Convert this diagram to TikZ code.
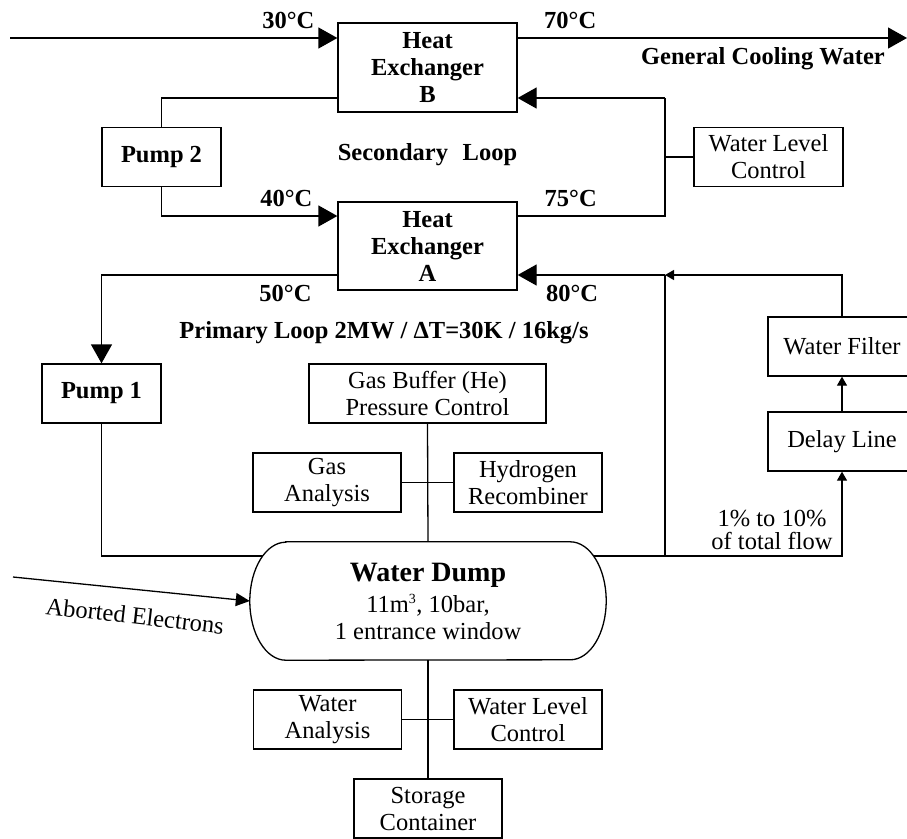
\documentclass[tikz,border=0pt]{standalone}
\usepackage{fontspec}
\setmainfont{Liberation Serif}
\usetikzlibrary{arrows.meta}

\newcommand{\boxfont}{\fontsize{24.5}{27}\selectfont}
\newcommand{\dumpfont}{\fontsize{28}{31}\selectfont}

\tikzset{
  unitbox/.style={draw, line width=1.3pt, minimum width=148pt, minimum height=59pt, inner sep=0pt, align=center},
  pumpbox/.style={unitbox, minimum width=119pt, font=\boxfont\bfseries},
  exchanger/.style={unitbox, minimum width=179pt, minimum height=89pt, font=\boxfont\bfseries},
  templabel/.style={inner sep=0pt, font=\boxfont\bfseries},
  pipe/.style={line width=1.3pt},
  bigtip/.style={-{Triangle[length=19pt, width=21pt]}},
  midtip/.style={-{Triangle[length=14pt, width=13pt]}},
  smalltip/.style={-{Triangle[length=9pt, width=10pt]}}
}

\begin{document}
\begin{tikzpicture}[x=1pt, y=-1pt, every node/.style={font=\boxfont}]%[remember picture, overlay]

\def\endrx{36}
\def\endry{59}

\useasboundingbox (0,0) rectangle (907,838);

\node[exchanger] (hxB) at (427.5,67.5) {Heat\\Exchanger\\B};

\node[exchanger, minimum height=88pt] (hxA) at (427.5,246) {Heat\\Exchanger\\A};

\node[pumpbox] (pump2) at (161.5,157) {Pump 2};

\node[pumpbox] (pump1) at (101.5,393.5) {Pump 1};

\node[unitbox, minimum width=149pt] (levelB) at (768.5,157) {Water Level\\Control};

\node[unitbox, minimum width=237pt] (gasbuf) at (427.5,393.5) {Gas Buffer (He)\\Pressure Control};

\node[unitbox] (gasana) at (327,482.5) {Gas\\Analysis};

\node[unitbox] (recomb) at (528,482.5) {Hydrogen\\Recombiner};

\node[unitbox] (filter) at (842,346.5) {Water Filter};

\node[unitbox] (delay) at (842,441.5) {Delay Line};

\node[unitbox] (watana) at (327.5,719.5) {Water\\Analysis};

\node[unitbox] (levelA) at (528,719.5) {Water Level\\Control};

\node[unitbox] (store) at (428,808.5) {Storage\\Container};

% the dump vessel: straight top and bottom, half-ellipse ends
\node[minimum width=356pt, minimum height=118pt, inner sep=0pt, align=center] (dump) at (428,601) {{\dumpfont\bfseries Water Dump}\\[4pt]11m\textsuperscript{\fontsize{14}{14}\selectfont 3}, 10bar,\\1 entrance window};

\draw[pipe] ([xshift=\endrx pt]dump.north west) -- ([xshift=-\endrx pt]dump.north east) arc[start angle=-90, end angle=90, x radius=\endrx, y radius=\endry] -- ([xshift=\endrx pt]dump.south west) arc[start angle=90, end angle=270, x radius=\endrx, y radius=\endry] -- cycle;

% cooling water through B
\coordinate (cwin) at (10,38);
\coordinate (cwout) at (907,38);

\draw[pipe, bigtip] (cwin) -- (cwin -| hxB.west) node[templabel, pos=0.85, above=9pt] (t30) {30°C};

\draw[pipe, bigtip] (cwin -| hxB.east) -- (cwout) node[templabel, pos=0.135, above=9pt] (t70) {70°C} node[templabel, pos=0.63, below=9pt] (cooling) {General Cooling Water};

% secondary loop
\coordinate (secup) at (665,98);

\draw[pipe] ([yshift=-30.5pt]hxB.west) -| (pump2.north);

\draw[pipe, bigtip] (pump2.south) |- ([yshift=30pt]hxA.west) node[templabel, pos=0.855, above=9pt] (t40) {40°C};

\draw[pipe] ([yshift=30pt]hxA.east) -| (secup) node[templabel, pos=0.18, above=9pt] (t75) {75°C};

\draw[pipe, bigtip] (secup) -- (secup -| hxB.east);

\draw[pipe] (levelB.west) -- (levelB.west -| secup);

\node[templabel] (secloop) at (427.5,155) {Secondary\hspace{.6em}Loop};

% primary loop
\coordinate (dumpL) at ([xshift=12.7pt, yshift=45pt]dump.west);
\coordinate (dumpR) at ([xshift=-12.7pt, yshift=45pt]dump.east);
\coordinate (primup) at (665,275);

\draw[pipe, bigtip] ([yshift=-29pt]hxA.west) -| (pump1.north) node[templabel, pos=0.11, below=10pt] (t50) {50°C};

\draw[pipe] (pump1.south) |- (dumpL);

\draw[pipe, smalltip] (dumpR) -| (delay.south);

\draw[pipe, smalltip] (delay.north) -- (filter.south);

\draw[pipe, smalltip] (filter.north) |- (primup);

\draw[pipe, bigtip] (primup) -- (primup -| hxA.east) node[templabel, pos=0.63, below=10pt] (t80) {80°C};

\draw[pipe] (primup) -- (primup |- dumpR);

\node[templabel] (primloop) at (384,333) {Primary Loop 2MW / ΔT=30K / 16kg/s};

\node[inner sep=0pt, align=center] (fraction) at (772,530) {1\% to 10\%\\[-4pt]of total flow};

% gas and water side systems
\draw[pipe] (gasbuf.south) -- (dump.north);

\draw[pipe] (gasana.east) -- (recomb.west);

\draw[pipe] (dump.south) -- (store.north);

\draw[pipe] (watana.east) -- (levelA.west);

% beam entry
\coordinate (beam) at (13,577);

\draw[pipe, midtip] (beam) -- (dump.west);

\node[rotate=-6.5] (aborted) at (135,616) {Aborted Electrons};

\end{tikzpicture}
\end{document}
